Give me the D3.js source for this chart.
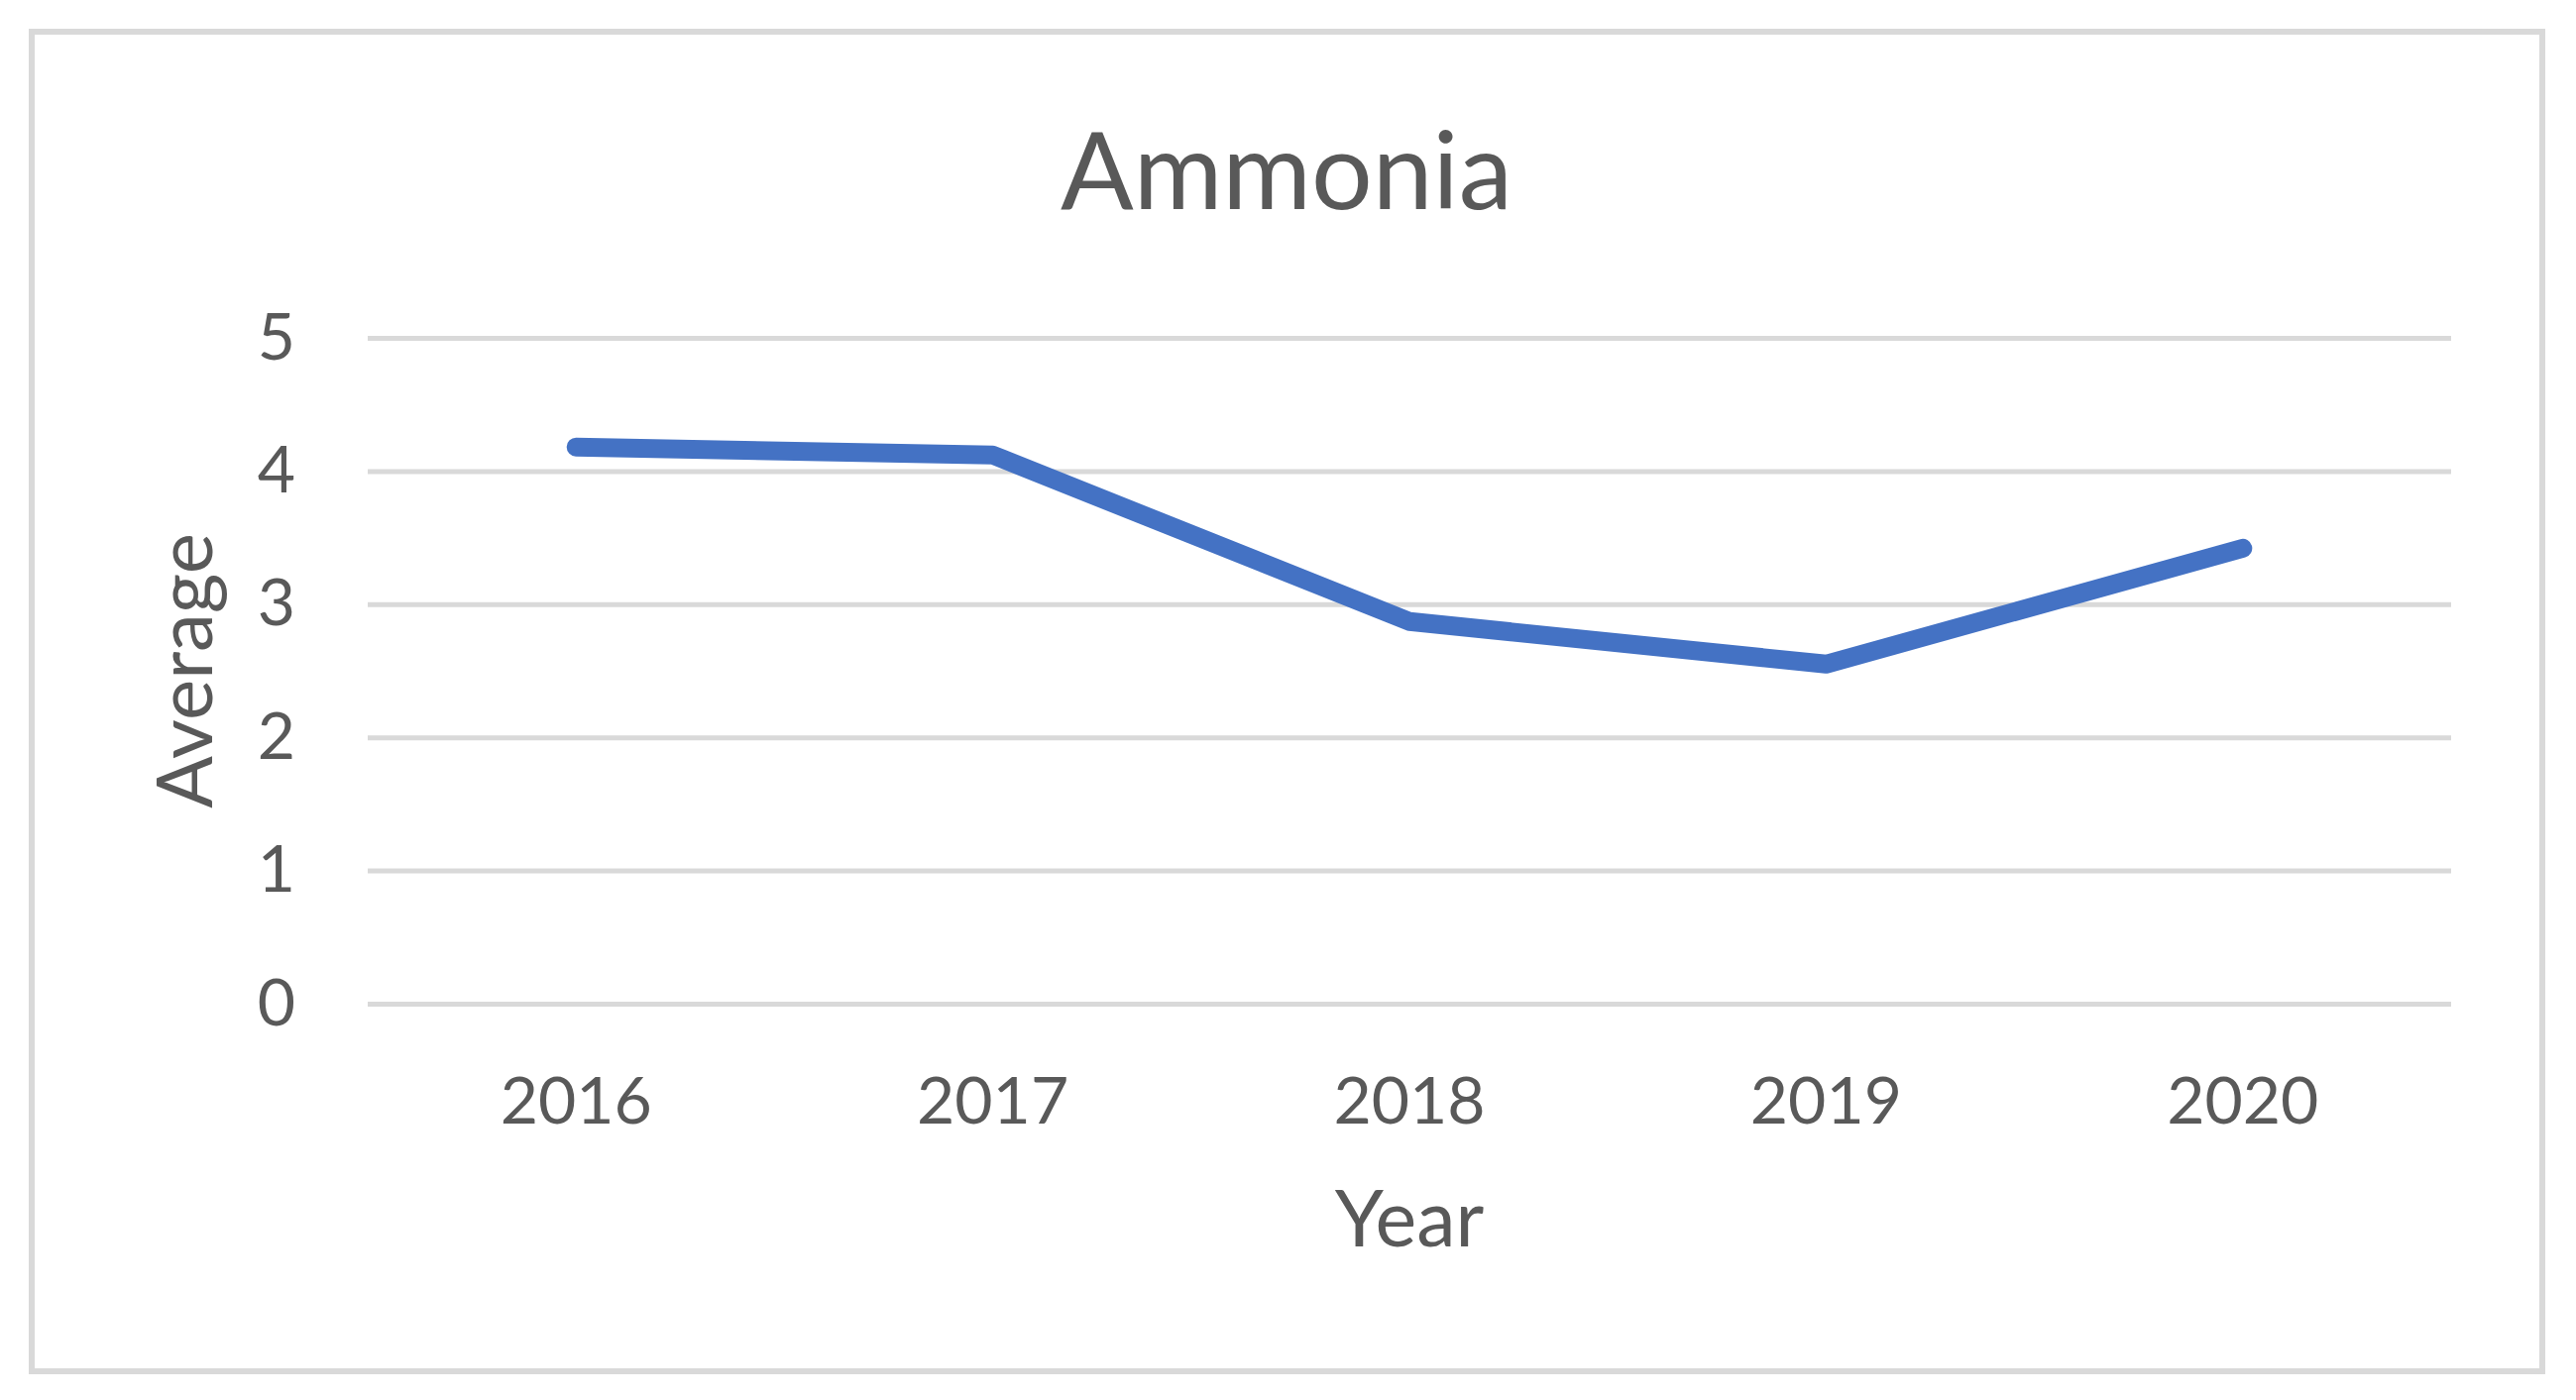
<!DOCTYPE html>
<html>
<head>
<meta charset="utf-8">
<script src="https://cdn.jsdelivr.net/npm/d3@7"></script>
<style>
  html, body { margin: 0; padding: 0; background: #ffffff; }
  svg { display: block; }
</style>
</head>
<body>
<script>
const years = ["2016", "2017", "2018", "2019", "2020"];
const averages = [4.18, 4.12, 2.87, 2.55, 3.42];
const yTicks = [0, 1, 2, 3, 4, 5];
const chartTitle = "Ammonia";
const xTitle = "Year";
const yTitle = "Average";

const W = 2599, H = 1413;
const font = "Lato, 'Open Sans', sans-serif";
const textColor = "#595959";
const gridColor = "#d9d9d9";
const lineColor = "#4472C4";

const svg = d3.select("body").append("svg")
  .attr("width", W).attr("height", H);

svg.append("rect").attr("width", W).attr("height", H).attr("fill", "#fff");

// chart border
svg.append("rect")
  .attr("x", 32).attr("y", 32)
  .attr("width", 2565 - 32).attr("height", 1384 - 32)
  .attr("fill", "none").attr("stroke", gridColor).attr("stroke-width", 6);

const plot = { left: 371, right: 2473, top: 341, bottom: 1013 };

const x = d3.scaleBand().domain(years).range([plot.left, plot.right]).padding(0);
const y = d3.scaleLinear().domain([0, 5]).range([plot.bottom, plot.top]);

// gridlines + y labels
const yAxis = d3.axisLeft(y).tickValues(yTicks).tickSize(-(plot.right - plot.left)).tickPadding(73).tickFormat(d3.format("d"));
const gy = svg.append("g").attr("transform", `translate(${plot.left},0)`).call(yAxis);
gy.select(".domain").remove();
gy.selectAll(".tick line").attr("stroke", gridColor).attr("stroke-width", 5);
gy.selectAll(".tick text")
  .attr("fill", textColor).attr("font-family", font).attr("font-size", 66);

// x labels
const xAxis = d3.axisBottom(x).tickSize(0).tickPadding(0);
const gx = svg.append("g").attr("transform", `translate(0,${plot.bottom})`).call(xAxis);
gx.select(".domain").remove();
gx.selectAll(".tick text")
  .attr("fill", textColor).attr("font-family", font).attr("font-size", 66)
  .attr("dy", null).attr("y", 121);

// line
const line = d3.line().x((d, i) => x(years[i]) + x.bandwidth() / 2).y(d => y(d));
svg.append("path").datum(averages)
  .attr("d", line)
  .attr("fill", "none").attr("stroke", lineColor)
  .attr("stroke-width", 19).attr("stroke-linecap", "round").attr("stroke-linejoin", "round");

// title
svg.append("text").attr("x", 1298).attr("y", 211)
  .attr("text-anchor", "middle").attr("fill", textColor)
  .attr("font-family", font).attr("font-size", 109).text(chartTitle);

// x title
svg.append("text").attr("x", (plot.left + plot.right) / 2).attr("y", 1258)
  .attr("text-anchor", "middle").attr("fill", textColor)
  .attr("font-family", font).attr("font-size", 79).text(xTitle);

// y title
svg.append("text").attr("transform", `translate(214,${(plot.top + plot.bottom) / 2}) rotate(-90)`)
  .attr("text-anchor", "middle").attr("fill", textColor)
  .attr("font-family", font).attr("font-size", 78).text(yTitle);
</script>
</body>
</html>
